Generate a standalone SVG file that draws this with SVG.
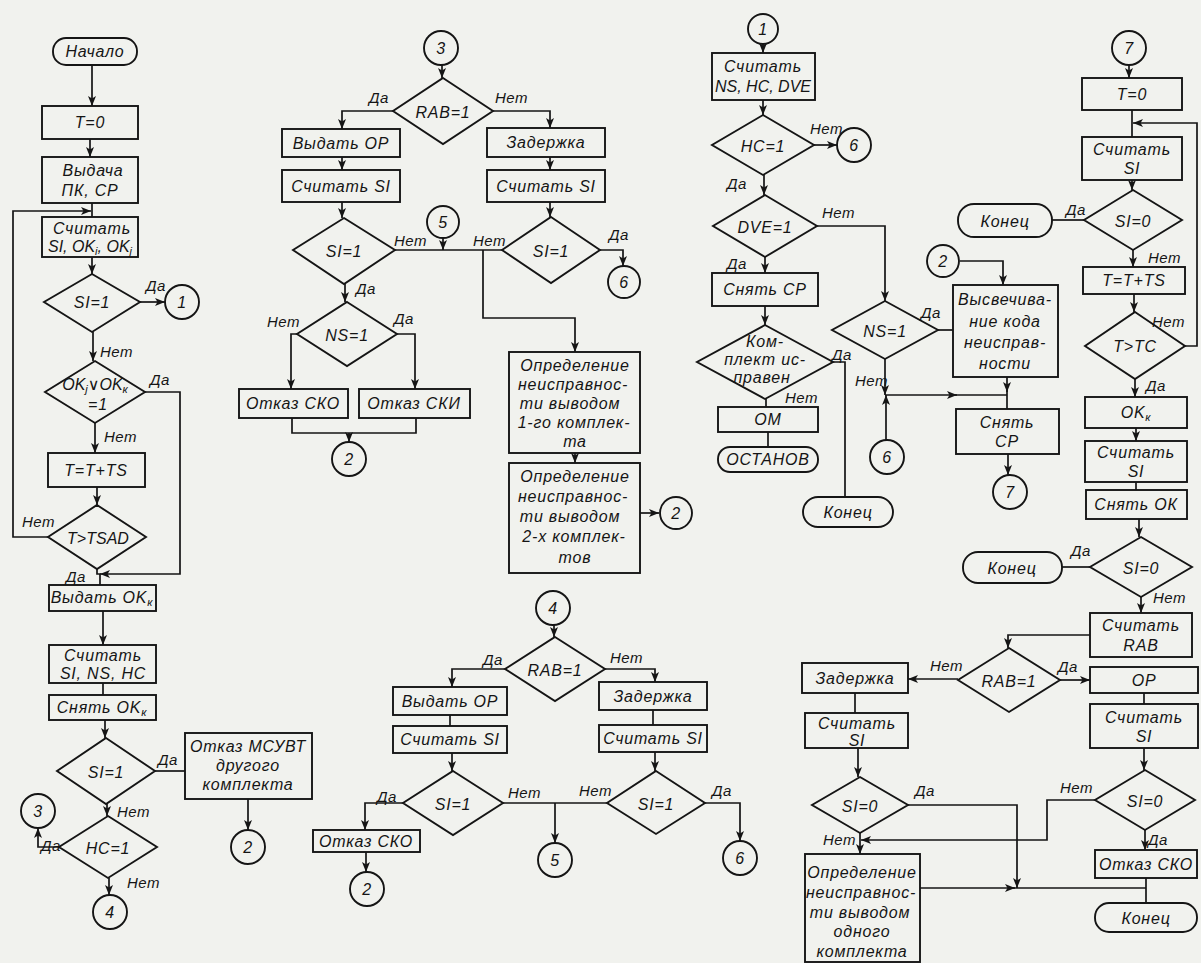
<svg xmlns="http://www.w3.org/2000/svg" width="1201" height="963" viewBox="0 0 1201 963">
<style>
.s{fill:none;stroke:#151515;stroke-width:1.9}
.c{fill:none;stroke:#151515;stroke-width:1.7}
.a{marker-end:url(#ar)}
text{font-family:"Liberation Sans","DejaVu Sans",sans-serif;font-style:italic;font-size:16px;letter-spacing:0.8px;fill:#151515;text-anchor:middle}
.l{text-anchor:start;font-size:15px;letter-spacing:0.5px}
.n{letter-spacing:0}
.sub{font-size:11px}
</style>
<defs>
<marker id="ar" markerUnits="userSpaceOnUse" markerWidth="11" markerHeight="8" refX="10" refY="4" orient="auto">
<path d="M0,0 L10,4 L0,8 L2.5,4 z" fill="#151515"/>
</marker>
</defs>
<rect width="1201" height="963" fill="#f1f2ee"/>

<g id="connectors">
<path class="c a" d="M92,65 V106"/>
<path class="c a" d="M90,139 V157"/>
<path class="c" d="M92,203 V217"/>
<path class="c a" d="M48,537 H13 V211 H91"/>
<path class="c a" d="M92,257 V274"/>
<path class="c a" d="M140,302 H165"/>
<path class="c a" d="M93,332 V361"/>
<path class="c a" d="M145,392 H180 V574 H100"/>
<path class="c a" d="M95,423 V453"/>
<path class="c a" d="M97,487 V505"/>
<path class="c" d="M97,569 V574 H100 V585"/>
<path class="c a" d="M103,611 V645"/>
<path class="c" d="M103,683 V695"/>
<path class="c a" d="M105,720 V738"/>
<path class="c" d="M155,771 H185"/>
<path class="c a" d="M248,799 V830"/>
<path class="c a" d="M107,804 V816"/>
<path class="c a" d="M59,847 H38 V828"/>
<path class="c a" d="M109,878 V895"/>
<path class="c a" d="M442,65 V78"/>
<path class="c a" d="M393,111 H342 V129"/>
<path class="c a" d="M493,111 H550 V128"/>
<path class="c a" d="M342,157 V170"/>
<path class="c a" d="M550,157 V170"/>
<path class="c a" d="M342,202 V218"/>
<path class="c a" d="M550,202 V217"/>
<path class="c" d="M395,250 H502"/>
<path class="c a" d="M443,238 V250"/>
<path class="c a" d="M483,250 V318 H575 V352"/>
<path class="c a" d="M575,453 V463"/>
<path class="c a" d="M640,513 H659"/>
<path class="c a" d="M600,250 H623 V266"/>
<path class="c a" d="M345,284 V302"/>
<path class="c a" d="M297,334 H291 V389"/>
<path class="c a" d="M397,334 H415 V389"/>
<path class="c" d="M292,418 V433 H416 V418"/>
<path class="c a" d="M349,433 V442"/>
<path class="c a" d="M554,625 V637"/>
<path class="c a" d="M505,669 H452 V687"/>
<path class="c a" d="M605,669 H655 V682"/>
<path class="c" d="M450,715 V726"/>
<path class="c" d="M653,710 V725"/>
<path class="c a" d="M452,753 V771"/>
<path class="c a" d="M655,752 V771"/>
<path class="c a" d="M403,803 H365 V830"/>
<path class="c a" d="M366,852 V872"/>
<path class="c" d="M503,803 H607"/>
<path class="c a" d="M555,803 V843"/>
<path class="c a" d="M705,803 H740 V841"/>
<path class="c a" d="M763,44 V53"/>
<path class="c a" d="M763,100 V115"/>
<path class="c a" d="M814,145 H837"/>
<path class="c a" d="M764,175 V195"/>
<path class="c a" d="M817,226 H885 V301"/>
<path class="c a" d="M765,257 V273"/>
<path class="c a" d="M765,306 V325"/>
<path class="c" d="M833,362 H845 V497"/>
<path class="c" d="M766,399 V407"/>
<path class="c" d="M768,432 V447"/>
<path class="c" d="M938,330 H953"/>
<path class="c a" d="M885,359 V395"/>
<path class="c a" d="M886,440 V395"/>
<path class="c a" d="M885,395 H957"/>
<path class="c" d="M955,395 H1007"/>
<path class="c a" d="M960,261 H1003 V285"/>
<path class="c a" d="M1007,377 V392"/>
<path class="c" d="M1007,390 V409"/>
<path class="c a" d="M1008,454 V475"/>
<path class="c a" d="M1129,65 V78"/>
<path class="c" d="M1132,110 V137"/>
<path class="c a" d="M1185,346 H1197 V123 H1133"/>
<path class="c a" d="M1132,180 V190"/>
<path class="c" d="M1084,220 H1052"/>
<path class="c a" d="M1133,250 V267"/>
<path class="c a" d="M1134,294 V312"/>
<path class="c a" d="M1135,379 V397"/>
<path class="c a" d="M1136,428 V441"/>
<path class="c" d="M1136,482 V490"/>
<path class="c a" d="M1139,519 V537"/>
<path class="c" d="M1090,567 H1062"/>
<path class="c a" d="M1141,597 V613"/>
<path class="c a" d="M1090,635 H1008 V648"/>
<path class="c a" d="M958,679 H908"/>
<path class="c a" d="M1060,680 H1090"/>
<path class="c" d="M855,693 V713"/>
<path class="c" d="M1144,693 V704"/>
<path class="c a" d="M858,748 V777"/>
<path class="c a" d="M1144,748 V770"/>
<path class="c a" d="M908,805 H1017 V888"/>
<path class="c a" d="M1095,800 H1047 V840 H861"/>
<path class="c a" d="M860,833 V854"/>
<path class="c a" d="M1145,830 V850"/>
<path class="c" d="M1146,878 V903"/>
<path class="c a" d="M920,888 H1015"/>
<path class="c" d="M1013,888 H1146"/>
</g>

<g id="start"><rect class="s" x="53" y="38" width="84" height="27" rx="13"/><text x="95" y="57">Начало</text></g>
<g id="t0"><rect class="s" x="42" y="106" width="96" height="33"/><text x="90" y="128">T=0</text></g>
<g id="vydacha"><rect class="s" x="42" y="157" width="96" height="46"/><text x="93" y="176">Выдача</text><text x="90" y="196">ПК, СР</text></g>
<g id="schitat1"><rect class="s" x="42" y="217" width="96" height="40"/><text x="92" y="234">Считать</text><text class="n" x="90" y="252">SI, OK<tspan class="sub" dy="3">i</tspan><tspan dy="-3">, OK</tspan><tspan class="sub" dy="3">j</tspan></text></g>
<g id="si1a"><polygon class="s" points="92,274 140,302 92,332 44,302"/><text x="92" y="308">SI=1</text><text class="l" x="146" y="291">Да</text></g>
<g id="c1a"><circle class="s" cx="182" cy="302" r="17"/><text x="182" y="308">1</text></g>
<text class="l" x="100" y="357">Нет</text>
<g id="okjk"><polygon class="s" points="95,361 145,392 95,423 45,392"/><text class="n" x="95" y="390">OK<tspan class="sub" dy="3">j</tspan><tspan dy="-3">∨OK</tspan><tspan class="sub" dy="3">к</tspan></text><text x="98" y="410">=1</text><text class="l" x="150" y="385">Да</text></g>
<text class="l" x="104" y="442">Нет</text>
<g id="tts1"><rect class="s" x="48" y="453" width="97" height="34"/><text x="96" y="476">T=T+TS</text></g>
<g id="tsad"><polygon class="s" points="97,505 146,537 97,569 48,537"/><text class="n" x="98" y="544">T&gt;TSAD</text><text class="l" x="22" y="527">Нет</text><text class="l" x="66" y="582">Да</text></g>
<g id="vydatok"><rect class="s" x="49" y="585" width="107" height="26"/><text x="102" y="603">Выдать OK<tspan class="sub" dy="3">к</tspan></text></g>
<g id="schitat2"><rect class="s" x="49" y="645" width="107" height="38"/><text x="103" y="661">Считать</text><text x="103" y="679">SI, NS, HC</text></g>
<g id="snyatok"><rect class="s" x="49" y="695" width="107" height="25"/><text x="102" y="713">Снять OK<tspan class="sub" dy="3">к</tspan></text></g>
<g id="si1b"><polygon class="s" points="106,738 155,771 106,804 57,771"/><text x="106" y="778">SI=1</text><text class="l" x="158" y="765">Да</text><text class="l" x="117" y="817">Нет</text></g>
<g id="otkazmsuvt"><rect class="s" x="185" y="733" width="127" height="66"/><text x="248" y="752">Отказ МСУВТ</text><text x="248" y="771">другого</text><text x="248" y="790">комплекта</text></g>
<g id="c2a"><circle class="s" cx="248" cy="847" r="17"/><text x="248" y="853">2</text></g>
<g id="hc1a"><polygon class="s" points="108,816 157,847 108,878 59,847"/><text x="108" y="854">HC=1</text><text class="l" x="41" y="851">Да</text><text class="l" x="127" y="888">Нет</text></g>
<g id="c3a"><circle class="s" cx="38" cy="811" r="17"/><text x="38" y="817">3</text></g>
<g id="c4a"><circle class="s" cx="110" cy="912" r="17"/><text x="110" y="918">4</text></g>

<g id="c3b"><circle class="s" cx="441" cy="48" r="17"/><text x="441" y="54">3</text></g>
<g id="rab1a"><polygon class="s" points="443,78 493,111 443,144 393,111"/><text x="443" y="118">RAB=1</text><text class="l" x="369" y="103">Да</text><text class="l" x="495" y="103">Нет</text></g>
<g id="vydatop1"><rect class="s" x="282" y="129" width="118" height="28"/><text x="341" y="149">Выдать ОР</text></g>
<g id="schsi1"><rect class="s" x="282" y="170" width="118" height="32"/><text x="341" y="192">Считать SI</text></g>
<g id="si1c"><polygon class="s" points="344,218 395,250 344,284 293,250"/><text x="344" y="257">SI=1</text><text class="l" x="394" y="246">Нет</text><text class="l" x="356" y="294">Да</text></g>
<g id="c5a"><circle class="s" cx="443" cy="222" r="16"/><text x="443" y="228">5</text></g>
<g id="zad1"><rect class="s" x="487" y="128" width="118" height="29"/><text x="546" y="148">Задержка</text></g>
<g id="schsi2"><rect class="s" x="487" y="170" width="118" height="32"/><text x="546" y="192">Считать SI</text></g>
<g id="si1d"><polygon class="s" points="551,217 600,250 551,283 502,250"/><text x="551" y="257">SI=1</text><text class="l" x="473" y="246">Нет</text><text class="l" x="609" y="240">Да</text></g>
<g id="c6a"><circle class="s" cx="624" cy="282" r="16"/><text x="624" y="288">6</text></g>
<g id="ns1a"><polygon class="s" points="347,302 397,334 347,366 297,334"/><text x="347" y="341">NS=1</text><text class="l" x="267" y="327">Нет</text><text class="l" x="394" y="324">Да</text></g>
<g id="sko1"><rect class="s" x="239" y="389" width="109" height="29"/><text x="293" y="409">Отказ СКО</text></g>
<g id="ski"><rect class="s" x="359" y="389" width="111" height="29"/><text x="414" y="409">Отказ СКИ</text></g>
<g id="c2b"><circle class="s" cx="349" cy="459" r="17"/><text x="349" y="465">2</text></g>
<g id="opr1"><rect class="s" x="509" y="352" width="131" height="101"/><text x="575" y="371">Определение</text><text x="573" y="390">неисправнос-</text><text x="570" y="409">ти выводом</text><text x="574" y="428">1-го комплек-</text><text x="575" y="447">та</text></g>
<g id="opr2"><rect class="s" x="509" y="463" width="131" height="110"/><text x="575" y="482">Определение</text><text x="573" y="502">неисправнос-</text><text x="570" y="522">ти выводом</text><text x="574" y="542">2-х комплек-</text><text x="575" y="563">тов</text></g>
<g id="c2c"><circle class="s" cx="676" cy="513" r="16"/><text x="676" y="519">2</text></g>

<g id="c4b"><circle class="s" cx="553" cy="608" r="17"/><text x="553" y="614">4</text></g>
<g id="rab1b"><polygon class="s" points="555,637 605,669 555,701 505,669"/><text x="555" y="676">RAB=1</text><text class="l" x="483" y="665">Да</text><text class="l" x="610" y="663">Нет</text></g>
<g id="vydatop2"><rect class="s" x="393" y="687" width="114" height="28"/><text x="450" y="707">Выдать ОР</text></g>
<g id="schsi3"><rect class="s" x="393" y="726" width="114" height="27"/><text x="450" y="745">Считать SI</text></g>
<g id="si1e"><polygon class="s" points="453,771 503,803 453,835 403,803"/><text x="453" y="810">SI=1</text><text class="l" x="377" y="802">Да</text><text class="l" x="508" y="798">Нет</text></g>
<g id="sko2"><rect class="s" x="313" y="830" width="107" height="22"/><text x="366" y="847">Отказ СКО</text></g>
<g id="c2d"><circle class="s" cx="367" cy="889" r="17"/><text x="367" y="895">2</text></g>
<g id="c5b"><circle class="s" cx="555" cy="860" r="17"/><text x="555" y="866">5</text></g>
<g id="zad2"><rect class="s" x="599" y="682" width="108" height="28"/><text x="653" y="702">Задержка</text></g>
<g id="schsi4"><rect class="s" x="599" y="725" width="108" height="27"/><text x="653" y="744">Считать SI</text></g>
<g id="si1f"><polygon class="s" points="656,771 705,803 656,834 607,803"/><text x="656" y="810">SI=1</text><text class="l" x="579" y="796">Нет</text><text class="l" x="712" y="796">Да</text></g>
<g id="c6b"><circle class="s" cx="740" cy="858" r="17"/><text x="740" y="864">6</text></g>

<g id="c1b"><circle class="s" cx="763" cy="29" r="15"/><text x="763" y="35">1</text></g>
<g id="schitat3"><rect class="s" x="712" y="53" width="103" height="47"/><text x="763" y="72">Считать</text><text class="n" x="763" y="92">NS, HC, DVE</text></g>
<g id="hc1b"><polygon class="s" points="763,115 814,145 763,175 712,145"/><text x="763" y="152">HC=1</text><text class="l" x="810" y="134">Нет</text><text class="l" x="727" y="189">Да</text></g>
<g id="c6c"><circle class="s" cx="854" cy="145" r="17"/><text x="854" y="151">6</text></g>
<g id="dve"><polygon class="s" points="765,195 817,226 765,257 713,226"/><text x="765" y="233">DVE=1</text><text class="l" x="822" y="218">Нет</text><text class="l" x="727" y="269">Да</text></g>
<g id="snyatcp1"><rect class="s" x="712" y="273" width="106" height="33"/><text x="765" y="295">Снять СР</text></g>
<g id="komplekt"><polygon class="s" points="765,325 833,362 765,399 697,362"/><text x="765" y="347">Ком-</text><text x="765" y="365">плект ис-</text><text x="762" y="383">правен</text><text class="l" x="832" y="360">Да</text><text class="l" x="785" y="403">Нет</text></g>
<g id="om"><rect class="s" x="718" y="407" width="100" height="25"/><text x="768" y="425">ОМ</text></g>
<g id="ostanov"><rect class="s" x="718" y="447" width="100" height="25" rx="12"/><text x="768" y="465">ОСТАНОВ</text></g>
<g id="konec1"><rect class="s" x="803" y="497" width="90" height="30" rx="15"/><text x="848" y="518">Конец</text></g>
<g id="ns1b"><polygon class="s" points="885,301 938,330 885,359 832,330"/><text x="885" y="337">NS=1</text><text class="l" x="921" y="318">Да</text><text class="l" x="855" y="386">Нет</text></g>
<g id="c6d"><circle class="s" cx="887" cy="457" r="17"/><text x="887" y="463">6</text></g>
<g id="c2e"><circle class="s" cx="943" cy="261" r="16"/><text x="943" y="267">2</text></g>
<g id="vysvech"><rect class="s" x="953" y="285" width="105" height="92"/><text x="1005" y="305">Высвечива-</text><text x="1005" y="327">ние кода</text><text x="1005" y="348">неисправ-</text><text x="1005" y="369">ности</text></g>
<g id="snyatcp2"><rect class="s" x="956" y="409" width="103" height="45"/><text x="1007" y="428">Снять</text><text x="1007" y="447">СР</text></g>
<g id="c7a"><circle class="s" cx="1010" cy="492" r="17"/><text x="1010" y="498">7</text></g>

<g id="c7b"><circle class="s" cx="1129" cy="48" r="17"/><text x="1129" y="54">7</text></g>
<g id="t0b"><rect class="s" x="1082" y="78" width="100" height="32"/><text x="1132" y="100">T=0</text></g>
<g id="schsi5"><rect class="s" x="1082" y="137" width="100" height="43"/><text x="1132" y="155">Считать</text><text x="1132" y="174">SI</text></g>
<g id="si0a"><polygon class="s" points="1133,190 1182,220 1133,250 1084,220"/><text x="1133" y="227">SI=0</text><text class="l" x="1066" y="215">Да</text><text class="l" x="1148" y="263">Нет</text></g>
<g id="konec2"><rect class="s" x="958" y="204" width="94" height="33" rx="16"/><text x="1005" y="227">Конец</text></g>
<g id="tts2"><rect class="s" x="1083" y="267" width="102" height="27"/><text x="1134" y="286">T=T+TS</text></g>
<g id="tc"><polygon class="s" points="1135,312 1185,346 1135,379 1085,346"/><text x="1135" y="352">T&gt;TC</text><text class="l" x="1152" y="327">Нет</text><text class="l" x="1146" y="391">Да</text></g>
<g id="okk"><rect class="s" x="1085" y="397" width="102" height="31"/><text x="1136" y="418">OK<tspan class="sub" dy="3">к</tspan></text></g>
<g id="schsi6"><rect class="s" x="1085" y="441" width="102" height="41"/><text x="1136" y="458">Считать</text><text x="1136" y="477">SI</text></g>
<g id="snyatok2"><rect class="s" x="1086" y="490" width="101" height="29"/><text x="1136" y="510">Снять ОК</text></g>
<g id="si0b"><polygon class="s" points="1141,537 1192,567 1141,597 1090,567"/><text x="1141" y="574">SI=0</text><text class="l" x="1071" y="556">Да</text><text class="l" x="1153" y="603">Нет</text></g>
<g id="konec3"><rect class="s" x="963" y="552" width="99" height="31" rx="15"/><text x="1012" y="574">Конец</text></g>
<g id="schrab"><rect class="s" x="1090" y="613" width="102" height="44"/><text x="1141" y="631">Считать</text><text x="1141" y="651">RAB</text></g>
<g id="rab1c"><polygon class="s" points="1009,648 1060,680 1009,712 958,680"/><text x="1009" y="687">RAB=1</text><text class="l" x="930" y="671">Нет</text><text class="l" x="1058" y="672">Да</text></g>
<g id="zad3"><rect class="s" x="802" y="663" width="106" height="30"/><text x="855" y="684">Задержка</text></g>
<g id="op"><rect class="s" x="1090" y="667" width="108" height="26"/><text x="1144" y="686">ОР</text></g>
<g id="schsi7"><rect class="s" x="805" y="713" width="103" height="35"/><text x="857" y="729">Считать</text><text x="857" y="746">SI</text></g>
<g id="schsi8"><rect class="s" x="1090" y="704" width="108" height="44"/><text x="1144" y="723">Считать</text><text x="1144" y="742">SI</text></g>
<g id="si0c"><polygon class="s" points="860,777 908,805 860,833 812,805"/><text x="860" y="812">SI=0</text><text class="l" x="915" y="796">Да</text><text class="l" x="823" y="845">Нет</text></g>
<g id="si0d"><polygon class="s" points="1145,770 1195,800 1145,830 1095,800"/><text x="1145" y="807">SI=0</text><text class="l" x="1060" y="793">Нет</text><text class="l" x="1148" y="845">Да</text></g>
<g id="sko3"><rect class="s" x="1095" y="850" width="102" height="28"/><text x="1146" y="870">Отказ СКО</text></g>
<g id="konec4"><rect class="s" x="1095" y="903" width="102" height="29" rx="14"/><text x="1146" y="924">Конец</text></g>
<g id="opr3"><rect class="s" x="805" y="854" width="115" height="108"/><text x="862" y="878">Определение</text><text x="861" y="898">неисправнос-</text><text x="860" y="918">ти выводом</text><text x="862" y="937">одного</text><text x="862" y="957">комплекта</text></g>
</svg>
